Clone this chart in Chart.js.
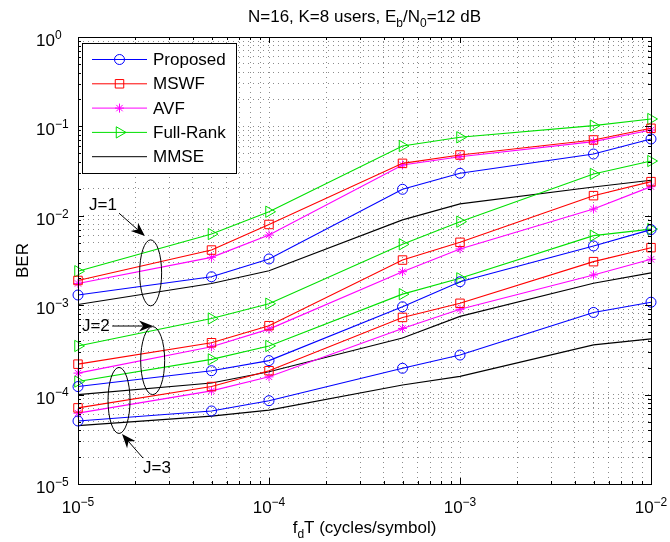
<!DOCTYPE html>
<html>
<head>
<meta charset="utf-8">
<title>BER vs fdT</title>
<script src="https://cdn.jsdelivr.net/npm/chart.js@4.4.1/dist/chart.umd.min.js"></script>
<style>
  html, body { margin: 0; padding: 0; background: #fff; }
  canvas { display: block; }
</style>
</head>
<body>
<canvas id="berChart" width="670" height="542"></canvas>
<script>
// normalised Doppler rate fd*T
var fdT = [1e-5, 5e-5, 1e-4, 5e-4, 1e-3, 5e-3, 1e-2];

// J = 1
var proposedJ1 = [1.3e-3, 2.08e-3, 3.29e-3, 1.98e-2, 2.99e-2, 4.91e-2, 7.23e-2];
var mswfJ1     = [1.89e-3, 4.14e-3, 8.0e-3, 3.86e-2, 4.79e-2, 7.05e-2, 9.52e-2];
var avfJ1      = [1.75e-3, 3.43e-3, 6.1e-3, 3.7e-2, 4.58e-2, 6.75e-2, 9.1e-2];
var fullRankJ1 = [2.4e-3, 6.25e-3, 1.11e-2, 6.04e-2, 7.55e-2, 1.02e-1, 1.21e-1];
var mmseJ1     = [1.02e-3, 1.75e-3, 2.43e-3, 9.0e-3, 1.36e-2, 2.1e-2, 2.5e-2];

// J = 2
var proposedJ2 = [1.23e-4, 1.85e-4, 2.4e-4, 9.6e-4, 1.83e-3, 4.6e-3, 7.0e-3];
var mswfJ2     = [2.19e-4, 3.8e-4, 5.9e-4, 3.2e-3, 5.05e-3, 1.68e-2, 2.41e-2];
var avfJ2      = [1.74e-4, 3.43e-4, 5.4e-4, 2.37e-3, 4.26e-3, 1.19e-2, 2.12e-2];
var fullRankJ2 = [3.5e-4, 7.1e-4, 1.04e-3, 4.8e-3, 8.6e-3, 2.94e-2, 4.1e-2];
var mmseJ2     = [1.0e-4, 1.35e-4, 1.8e-4, 4.3e-4, 7.5e-4, 1.76e-3, 2.3e-3];

// J = 3
var proposedJ3 = [5.07e-5, 6.56e-5, 8.55e-5, 1.97e-4, 2.77e-4, 8.3e-4, 1.08e-3];
var mswfJ3     = [7.1e-5, 1.23e-4, 1.85e-4, 7.3e-4, 1.05e-3, 3.07e-3, 4.4e-3];
var avfJ3      = [6.2e-5, 1.1e-4, 1.58e-4, 5.5e-4, 9.0e-4, 2.18e-3, 3.26e-3];
var fullRankJ3 = [1.4e-4, 2.48e-4, 3.5e-4, 1.33e-3, 2.0e-3, 6.0e-3, 7.1e-3];
var mmseJ3     = [4.5e-5, 5.75e-5, 6.7e-5, 1.28e-4, 1.6e-4, 3.6e-4, 4.2e-4];

// decade exponents used for the tick labels
var xTickExp = [-5, -4, -3, -2];
var yTickExp = [-5, -4, -3, -2, -1, 0];

var FONT = '"Liberation Sans", Arial, Helvetica, sans-serif';

var methods = [
  { name: 'Proposed',  color: '#0000ff', marker: 'circle',   r: 5,   rot: 0,  data: [proposedJ1, proposedJ2, proposedJ3] },
  { name: 'MSWF',      color: '#ff0000', marker: 'rect',     r: 6,   rot: 0,  data: [mswfJ1, mswfJ2, mswfJ3] },
  { name: 'AVF',       color: '#ff00ff', marker: 'star',     r: 4.5, rot: 0,  data: [avfJ1, avfJ2, avfJ3] },
  { name: 'Full-Rank', color: '#00e000', marker: 'triangle', r: 6.5, rot: 90, data: [fullRankJ1, fullRankJ2, fullRankJ3] },
  { name: 'MMSE',      color: '#000000', marker: false,      r: 0,   rot: 0,  data: [mmseJ1, mmseJ2, mmseJ3] }
];

// ellipses grouping the curves of each J, arrows pointing at them
var groups = [
  { text: 'J=1', at: [1.35e-5, 1.32e-2], from: [1.64e-5, 1.07e-2], to: [2.24e-5, 5.94e-3], ell: [2.4e-5, 2.3e-3], rx: 11, ry: 33 },
  { text: 'J=2', at: [1.24e-5, 5.85e-4], from: [1.51e-5, 5.85e-4], to: [2.47e-5, 5.85e-4], ell: [2.46e-5, 2.4e-4], rx: 12, ry: 34 },
  { text: 'J=3', at: [2.59e-5, 1.51e-5], from: [2.19e-5, 1.95e-5], to: [1.70e-5, 3.62e-5], ell: [1.64e-5, 8.6e-5], rx: 11, ry: 33 }
];

function logTicks(exps) {
  var out = [];
  for (var i = 0; i < exps.length - 1; i++) {
    for (var k = 1; k <= 9; k++) out.push({ value: k * Math.pow(10, exps[i]) });
  }
  out.push({ value: Math.pow(10, exps[exps.length - 1]) });
  return out;
}

// text with sub/superscript parts
function drawRich(ctx, parts, x, y, size, align) {
  var small = Math.round(size * 0.72);
  var w = 0;
  parts.forEach(function (p) {
    ctx.font = (p.sub || p.sup ? small : size) + 'px ' + FONT;
    p.w = ctx.measureText(p.t).width;
    w += p.w;
  });
  var cx = align === 'center' ? x - w / 2 : x;
  ctx.textAlign = 'left';
  ctx.textBaseline = 'alphabetic';
  parts.forEach(function (p) {
    ctx.font = (p.sub || p.sup ? small : size) + 'px ' + FONT;
    var dy = p.sub ? size * 0.27 : p.sup ? -size * 0.42 : 0;
    ctx.fillText(p.t, cx, y + dy);
    cx += p.w;
  });
}

function power(exp) {
  return [{ t: '10' }, { t: String(exp).replace('-', '\u2212'), sup: true }];
}

function arrow(ctx, x1, y1, x2, y2) {
  var a = Math.atan2(y2 - y1, x2 - x1), L = 14, W = 5.5;
  ctx.beginPath();
  ctx.moveTo(x1, y1);
  ctx.lineTo(x2 - Math.cos(a) * L * 0.7, y2 - Math.sin(a) * L * 0.7);
  ctx.stroke();
  ctx.save();
  ctx.translate(x2, y2);
  ctx.rotate(a);
  ctx.beginPath();
  ctx.moveTo(0, 0);
  ctx.lineTo(-L, -W);
  ctx.lineTo(-L * 0.7, 0);
  ctx.lineTo(-L, W);
  ctx.closePath();
  ctx.fill();
  ctx.restore();
}

var decorations = {
  id: 'decorations',
  afterDraw: function (chart) {
    var ctx = chart.ctx, area = chart.chartArea;
    var xs = chart.scales.x, ys = chart.scales.y;
    ctx.save();
    ctx.fillStyle = '#000';
    ctx.strokeStyle = '#000';
    ctx.lineWidth = 1;

    // frame
    ctx.strokeRect(Math.round(area.left) + 0.5, Math.round(area.top) + 0.5,
      Math.round(area.right - area.left), Math.round(area.bottom - area.top));

    // inward tick marks on all four sides
    ctx.beginPath();
    xs.ticks.forEach(function (t) {
      var px = Math.round(xs.getPixelForValue(t.value)) + 0.5;
      var len = Math.abs(Math.log10(t.value) % 1) < 1e-9 ? 6 : 3;
      ctx.moveTo(px, area.bottom); ctx.lineTo(px, area.bottom - len);
      ctx.moveTo(px, area.top); ctx.lineTo(px, area.top + len);
    });
    ys.ticks.forEach(function (t) {
      var py = Math.round(ys.getPixelForValue(t.value)) + 0.5;
      var len = Math.abs(Math.log10(t.value) % 1) < 1e-9 ? 6 : 3;
      ctx.moveTo(area.left, py); ctx.lineTo(area.left + len, py);
      ctx.moveTo(area.right, py); ctx.lineTo(area.right - len, py);
    });
    ctx.stroke();

    // tick labels
    xTickExp.forEach(function (e) {
      drawRich(ctx, power(e), xs.getPixelForValue(Math.pow(10, e)), area.bottom + 29, 17, 'center');
    });
    yTickExp.forEach(function (e) {
      drawRich(ctx, power(e), 36, ys.getPixelForValue(Math.pow(10, e)) + 9, 17, 'left');
    });

    // title and axis titles
    var cx = (area.left + area.right) / 2;
    drawRich(ctx, [{ t: 'N=16, K=8 users, E' }, { t: 'b', sub: true }, { t: '/N' }, { t: '0', sub: true }, { t: '=12 dB' }],
      cx, 22, 17, 'center');
    drawRich(ctx, [{ t: 'f' }, { t: 'd', sub: true }, { t: 'T (cycles/symbol)' }], cx, 533, 17, 'center');
    ctx.save();
    ctx.translate(28, (area.top + area.bottom) / 2);
    ctx.rotate(-Math.PI / 2);
    ctx.font = '17px ' + FONT;
    ctx.textAlign = 'center';
    ctx.textBaseline = 'alphabetic';
    ctx.fillText('BER', 0, 0);
    ctx.restore();

    // group annotations
    ctx.font = '17px ' + FONT;
    groups.forEach(function (g) {
      ctx.beginPath();
      ctx.ellipse(xs.getPixelForValue(g.ell[0]), ys.getPixelForValue(g.ell[1]), g.rx, g.ry, 0, 0, Math.PI * 2);
      ctx.stroke();
      arrow(ctx, xs.getPixelForValue(g.from[0]), ys.getPixelForValue(g.from[1]),
        xs.getPixelForValue(g.to[0]), ys.getPixelForValue(g.to[1]));
      ctx.textAlign = 'center';
      ctx.textBaseline = 'middle';
      ctx.fillText(g.text, xs.getPixelForValue(g.at[0]), ys.getPixelForValue(g.at[1]));
    });

    // legend
    var lx = area.left + 4, ly = area.top + 6, lw = 154, lh = 130;
    ctx.fillStyle = '#fff';
    ctx.fillRect(lx, ly, lw, lh);
    ctx.strokeStyle = '#000';
    ctx.strokeRect(Math.round(lx) + 0.5, Math.round(ly) + 0.5, lw, lh);
    methods.forEach(function (m, i) {
      var y = ly + 16.5 + i * 24.3;
      ctx.strokeStyle = m.color;
      ctx.lineWidth = 1;
      ctx.beginPath();
      ctx.moveTo(lx + 10, y);
      ctx.lineTo(lx + 65, y);
      ctx.stroke();
      if (m.marker) {
        ctx.fillStyle = 'rgba(0,0,0,0)';
        Chart.helpers.drawPoint(ctx, { pointStyle: m.marker, radius: m.r, rotation: m.rot, borderWidth: 1 }, lx + 37.5, y);
      }
      ctx.fillStyle = '#000';
      ctx.font = '17px ' + FONT;
      ctx.textAlign = 'left';
      ctx.textBaseline = 'middle';
      ctx.fillText(m.name, lx + 71, y + 1);
    });
    ctx.restore();
  }
};

var datasets = [];
methods.forEach(function (m) {
  m.data.forEach(function (values, j) {
    datasets.push({
      label: m.name + ' J=' + (j + 1),
      data: fdT.map(function (x, i) { return { x: x, y: values[i] }; }),
      borderColor: m.color,
      backgroundColor: m.color,
      borderWidth: 1.1,
      pointStyle: m.marker,
      pointRadius: m.r,
      pointRotation: m.rot,
      pointBorderColor: m.color,
      pointBackgroundColor: 'rgba(0,0,0,0)',
      pointBorderWidth: 1,
      tension: 0,
      clip: false
    });
  });
});

var gridColor = 'rgba(0,0,0,0.45)';

new Chart(document.getElementById('berChart').getContext('2d'), {
  type: 'line',
  data: { datasets: datasets },
  options: {
    responsive: false,
    animation: false,
    layout: { padding: { top: 37, right: 19, bottom: 0, left: 38 } },
    plugins: { legend: { display: false }, tooltip: { enabled: false }, title: { display: false } },
    scales: {
      x: {
        type: 'logarithmic',
        min: 1e-5,
        max: 1e-2,
        afterBuildTicks: function (scale) { scale.ticks = logTicks(xTickExp); },
        afterFit: function (scale) { scale.height = 58; },
        ticks: { display: false },
        grid: { color: gridColor, lineWidth: 1, drawTicks: false },
        border: { display: false, dash: [1, 4] }
      },
      y: {
        type: 'logarithmic',
        min: 1e-5,
        max: 1,
        afterBuildTicks: function (scale) { scale.ticks = logTicks(yTickExp); },
        afterFit: function (scale) { scale.width = 40; },
        ticks: { display: false },
        grid: { color: gridColor, lineWidth: 1, drawTicks: false },
        border: { display: false, dash: [1, 4] }
      }
    }
  },
  plugins: [decorations]
});
</script>
</body>
</html>
